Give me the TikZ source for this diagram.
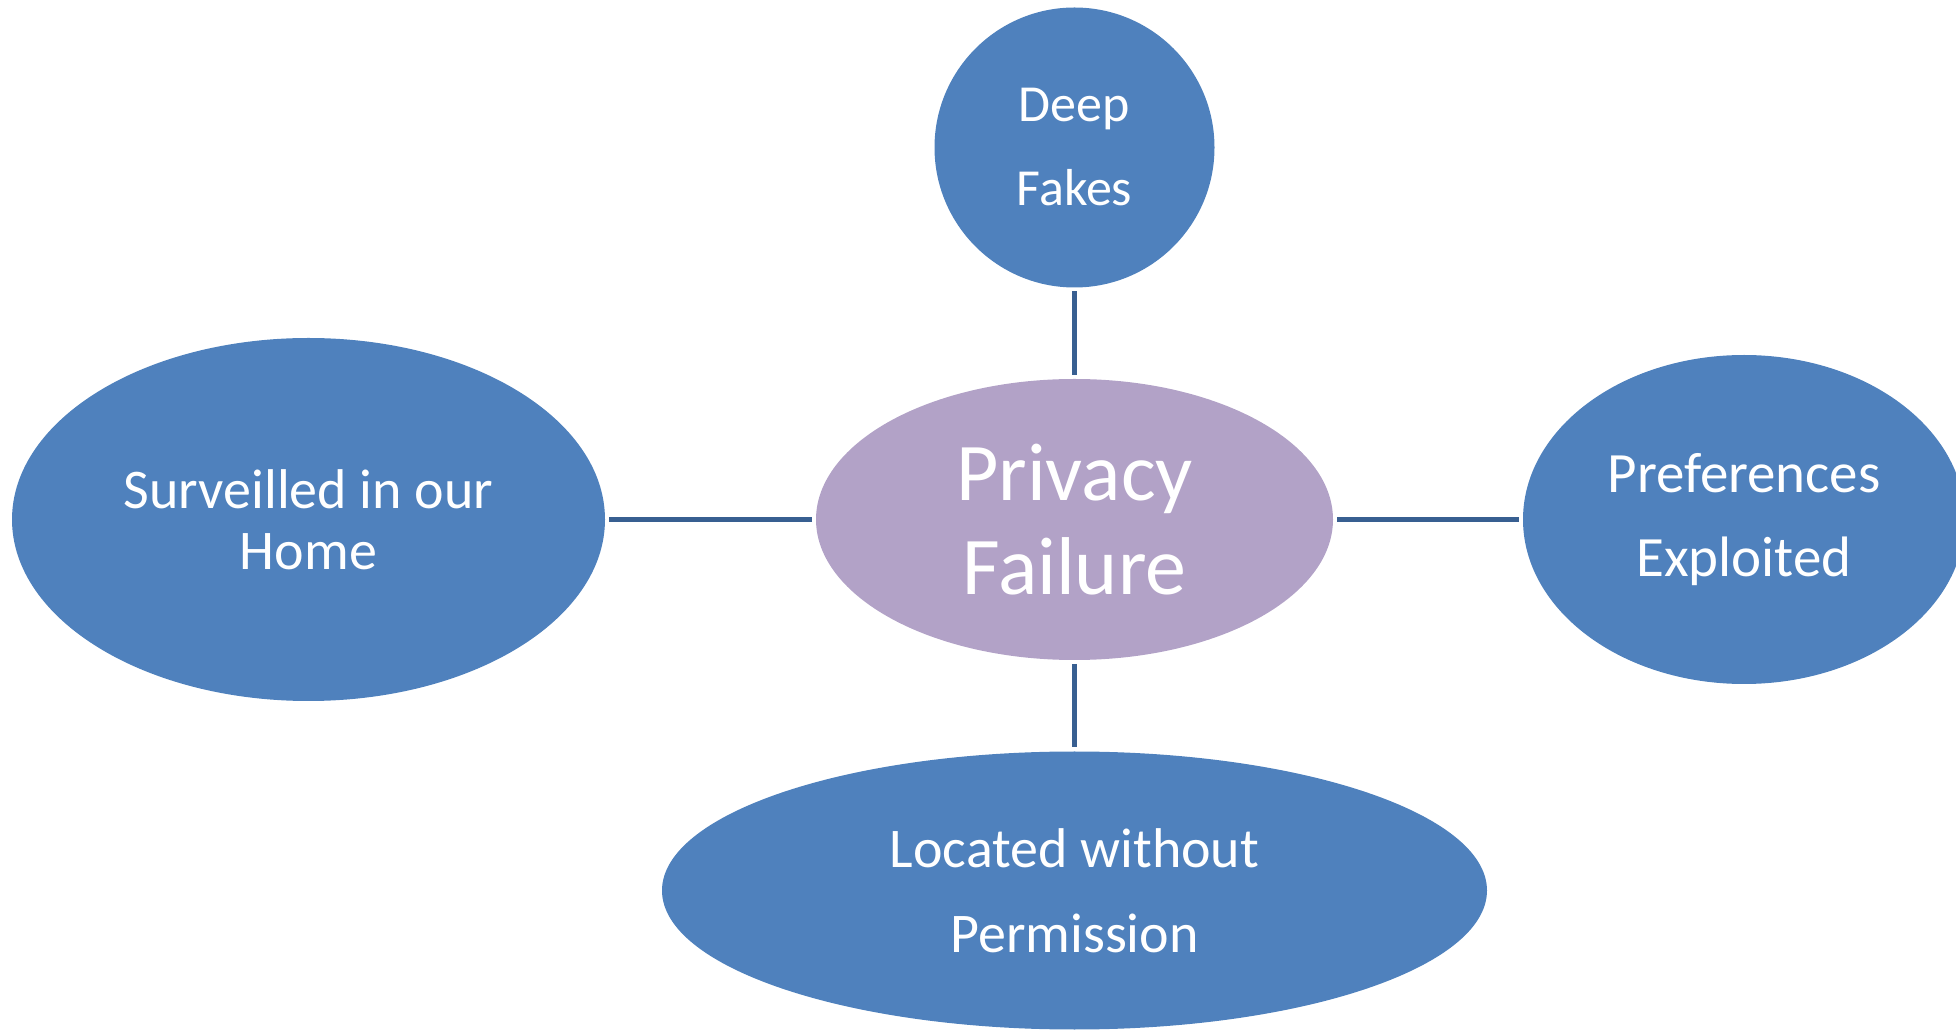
\documentclass[tikz,border=0pt]{standalone}
\usepackage{fontspec}
\setmainfont{Carlito}
\usetikzlibrary{shapes.geometric}
\definecolor{bubbleblue}{HTML}{4F81BD}
\definecolor{hubpurple}{HTML}{B2A2C7}
\definecolor{linkblue}{HTML}{385F91}
\tikzset{
  bubble/.style={ellipse, fill=bubbleblue, draw=none, inner sep=0pt, outer sep=0pt,
                 text=white, align=center},
  hub/.style={bubble, fill=hubpurple},
  link/.style={draw=linkblue, line width=2.4pt, shorten <=2pt, shorten >=2pt}
}
\begin{document}
\begin{tikzpicture}[x=0.5pt, y=-0.5pt]
  \useasboundingbox (0,0) rectangle (1956,1031);
  \clip (0,0) rectangle (1956,1031);

  % central topic
  \node[hub, minimum width=258.5pt, minimum height=140.5pt,
        font={\fontsize{41}{46.8}\selectfont}] (privacy) at (1074.5,519.5) {Privacy\\Failure};

  % surrounding topics
  \node[bubble, circle, minimum size=140pt,
        font={\fontsize{26}{42}\selectfont}] (deep) at (1074.5,147.5) {Deep\\Fakes};
  \node[bubble, minimum width=296.5pt, minimum height=181.5pt,
        font={\fontsize{28}{30.5}\selectfont}] (home) at (308.5,519.5) {Surveilled in our\\Home};
  \node[bubble, minimum width=221pt, minimum height=164.5pt,
        font={\fontsize{28.5}{42.3}\selectfont}] (prefs) at (1744,519.5) {Preferences\\Exploited};
  \node[bubble, minimum width=412.5pt, minimum height=139pt,
        font={\fontsize{28}{42.5}\selectfont}] (located) at (1074.5,890.5) {Located without\\Permission};

  % spokes
  \draw[link] (deep) -- (privacy);
  \draw[link] (home) -- (privacy);
  \draw[link] (privacy) -- (prefs);
  \draw[link] (privacy) -- (located);
\end{tikzpicture}
\end{document}
